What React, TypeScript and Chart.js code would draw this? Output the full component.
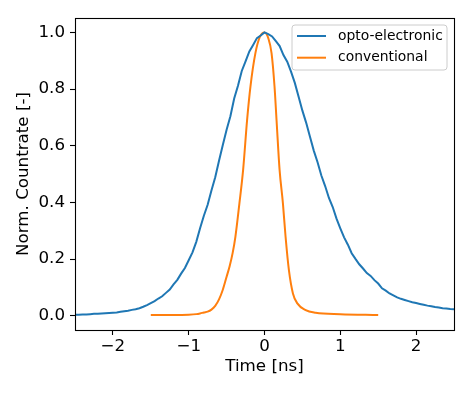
import React, { useEffect, useRef } from "react";
import { Chart, registerables } from "chart.js";

Chart.register(...registerables);

// ---- data ----
const blueX = [
  -2.5, -2.45, -2.4, -2.35, -2.3, -2.25, -2.2, -2.15, -2.1, -2.05,
  -2.0, -1.95, -1.9, -1.85, -1.8, -1.75, -1.7, -1.65, -1.6, -1.55,
  -1.5, -1.45, -1.4, -1.35, -1.3, -1.25, -1.2, -1.15, -1.1, -1.05,
  -1.0, -0.95, -0.9, -0.85, -0.8, -0.75, -0.7, -0.65, -0.6, -0.55,
  -0.5, -0.45, -0.4, -0.35, -0.3, -0.25, -0.2, -0.15, -0.1, -0.05,
  0.0, 0.05, 0.1, 0.15, 0.2, 0.25, 0.3, 0.35, 0.4, 0.45,
  0.5, 0.55, 0.6, 0.65, 0.7, 0.75, 0.8, 0.85, 0.9, 0.95,
  1.0, 1.05, 1.1, 1.15, 1.2, 1.25, 1.3, 1.35, 1.4, 1.45,
  1.5, 1.55, 1.6, 1.65, 1.7, 1.75, 1.8, 1.85, 1.9, 1.95,
  2.0, 2.05, 2.1, 2.15, 2.2, 2.25, 2.3, 2.35, 2.4, 2.45,
  2.5,
];
const blueY = [
  0.004, 0.004, 0.005, 0.005, 0.006, 0.007, 0.007, 0.008, 0.009, 0.010,
  0.011, 0.012, 0.014, 0.016, 0.018, 0.021, 0.023, 0.027, 0.032, 0.038,
  0.045, 0.052, 0.061, 0.069, 0.081, 0.093, 0.111, 0.127, 0.149, 0.169,
  0.196, 0.224, 0.261, 0.309, 0.353, 0.392, 0.442, 0.489, 0.547, 0.603,
  0.657, 0.704, 0.767, 0.812, 0.864, 0.898, 0.933, 0.956, 0.980, 0.989,
  1.000, 0.994, 0.986, 0.969, 0.952, 0.920, 0.897, 0.862, 0.822, 0.773,
  0.724, 0.681, 0.632, 0.583, 0.542, 0.495, 0.458, 0.416, 0.384, 0.343,
  0.309, 0.277, 0.251, 0.221, 0.201, 0.182, 0.167, 0.151, 0.141, 0.126,
  0.114, 0.097, 0.089, 0.079, 0.072, 0.065, 0.060, 0.056, 0.052, 0.048,
  0.045, 0.042, 0.039, 0.036, 0.034, 0.031, 0.029, 0.027, 0.026, 0.024,
  0.023,
];

const orangeX = [
  -1.5, -1.2, -1.0, -0.9, -0.85, -0.8, -0.75, -0.7, -0.65, -0.6,
  -0.55, -0.5, -0.46, -0.42, -0.384, -0.331, -0.282, -0.23, -0.185, -0.12,
  -0.06, 0.0, 0.05, 0.093, 0.132, 0.159, 0.199, 0.243, 0.278, 0.322,
  0.375, 0.433, 0.543, 0.675, 1.0, 1.5,
];
const orangeY = [
  0.003, 0.003, 0.004, 0.006, 0.0085, 0.012, 0.015, 0.022, 0.035, 0.058,
  0.092, 0.138, 0.175, 0.222, 0.279, 0.397, 0.515, 0.69, 0.81, 0.927,
  0.985, 1.0, 0.98, 0.927, 0.81, 0.69, 0.515, 0.397, 0.279, 0.161,
  0.079, 0.044, 0.02, 0.011, 0.006, 0.003,
];

const seriesLabels = ["opto-electronic", "conventional"];
const seriesColors = ["#1f77b4", "#ff7f0e"];

const xTicks = [-2, -1, 0, 1, 2];
const yTicks = [0, 0.2, 0.4, 0.6, 0.8, 1.0];
const xTitle = "Time [ns]";
const yTitle = "Norm. Countrate [-]";

const FONT = "'DejaVu Sans', 'Liberation Sans', sans-serif";

const framePlugin = {
  id: "mplFrame",
  afterDatasetsDraw(chart: any) {
    const { ctx, chartArea: a } = chart;
    ctx.save();
    // axes frame (spines)
    ctx.strokeStyle = "#000";
    ctx.lineWidth = 1.1;
    const l = Math.round(a.left) + 0.5;
    const t = Math.round(a.top) + 0.5;
    const r = Math.round(a.right) + 0.5;
    const b = Math.round(a.bottom) + 0.5;
    ctx.strokeRect(l, t, r - l, b - t);

    // legend (matplotlib style, upper right inside axes)
    const bw = 155;
    const bh = 45;
    const bx = a.right - 7 - bw;
    const by = a.top + 7;
    const rad = 3;
    ctx.beginPath();
    ctx.moveTo(bx + rad, by);
    ctx.lineTo(bx + bw - rad, by);
    ctx.quadraticCurveTo(bx + bw, by, bx + bw, by + rad);
    ctx.lineTo(bx + bw, by + bh - rad);
    ctx.quadraticCurveTo(bx + bw, by + bh, bx + bw - rad, by + bh);
    ctx.lineTo(bx + rad, by + bh);
    ctx.quadraticCurveTo(bx, by + bh, bx, by + bh - rad);
    ctx.lineTo(bx, by + rad);
    ctx.quadraticCurveTo(bx, by, bx + rad, by);
    ctx.closePath();
    ctx.fillStyle = "rgba(255,255,255,0.8)";
    ctx.fill();
    ctx.strokeStyle = "#cccccc";
    ctx.lineWidth = 1;
    ctx.stroke();

    chart.data.datasets.forEach((ds: any, i: number) => {
      const rowY = by + 11 + i * 21.7;
      ctx.beginPath();
      ctx.strokeStyle = ds.borderColor;
      ctx.lineWidth = 2;
      ctx.moveTo(bx + 5, rowY);
      ctx.lineTo(bx + 34, rowY);
      ctx.stroke();
      ctx.fillStyle = "#000";
      ctx.font = `13.9px ${FONT}`;
      ctx.textBaseline = "middle";
      ctx.textAlign = "left";
      ctx.fillText(ds.label, bx + 46, rowY);
    });
    ctx.restore();
  },
};

export default function App() {
  const ref = useRef<HTMLCanvasElement | null>(null);

  useEffect(() => {
    if (!ref.current) return;
    const chart = new Chart(ref.current, {
      type: "line",
      data: {
        datasets: [
          {
            label: seriesLabels[0],
            data: blueX.map((x, i) => ({ x, y: blueY[i] })),
            borderColor: seriesColors[0],
            backgroundColor: seriesColors[0],
            borderWidth: 2,
            pointRadius: 0,
            tension: 0,
            fill: false,
          },
          {
            label: seriesLabels[1],
            data: orangeX.map((x, i) => ({ x, y: orangeY[i] })),
            borderColor: seriesColors[1],
            backgroundColor: seriesColors[1],
            borderWidth: 2,
            pointRadius: 0,
            cubicInterpolationMode: "monotone",
            fill: false,
          },
        ],
      },
      options: {
        responsive: false,
        animation: false,
        events: [],
        layout: { padding: { top: 18, right: 18, left: 0, bottom: 0 } },
        plugins: {
          legend: { display: false },
          tooltip: { enabled: false },
        },
        scales: {
          x: {
            type: "linear",
            min: -2.5,
            max: 2.5,
            afterBuildTicks: (s: any) => {
              s.ticks = xTicks.map((v) => ({ value: v }));
            },
            afterFit: (s: any) => {
              s.height = 63;
            },
            grid: {
              display: true,
              drawOnChartArea: false,
              drawTicks: true,
              tickLength: 5,
              tickWidth: 1.1,
              tickColor: "#000",
            },
            border: { display: false },
            ticks: {
              padding: 2,
              color: "#000",
              font: { family: FONT, size: 16.7 },
              maxRotation: 0,
              autoSkip: false,
              callback: (v: any) => {
                const n = Number(v);
                return n < 0 ? "\u2212" + Math.abs(n) : String(n);
              },
            },
            title: {
              display: true,
              text: xTitle,
              color: "#000",
              font: { family: FONT, size: 16.7 },
              padding: { top: 0, bottom: 16 },
            },
          },
          y: {
            type: "linear",
            min: -0.05,
            max: 1.051,
            afterBuildTicks: (s: any) => {
              s.ticks = yTicks.map((v) => ({ value: v }));
            },
            afterFit: (s: any) => {
              s.width = 75;
            },
            grid: {
              display: true,
              drawOnChartArea: false,
              drawTicks: true,
              tickLength: 5,
              tickWidth: 1.1,
              tickColor: "#000",
            },
            border: { display: false },
            ticks: {
              padding: 5,
              color: "#000",
              font: { family: FONT, size: 16.7 },
              autoSkip: false,
              callback: (v: any) => Number(v).toFixed(1),
            },
            title: {
              display: true,
              text: yTitle,
              color: "#000",
              font: { family: FONT, size: 16.7 },
              padding: { top: 14, bottom: 0 },
            },
          },
        },
      },
      plugins: [framePlugin],
    } as any);
    return () => chart.destroy();
  }, []);

  return (
    <div style={{ position: "absolute", left: 0, top: 0, width: 472, height: 393, background: "#fff" }}>
      <canvas ref={ref} width={472} height={393} style={{ display: "block", width: 472, height: 393 }} />
    </div>
  );
}
